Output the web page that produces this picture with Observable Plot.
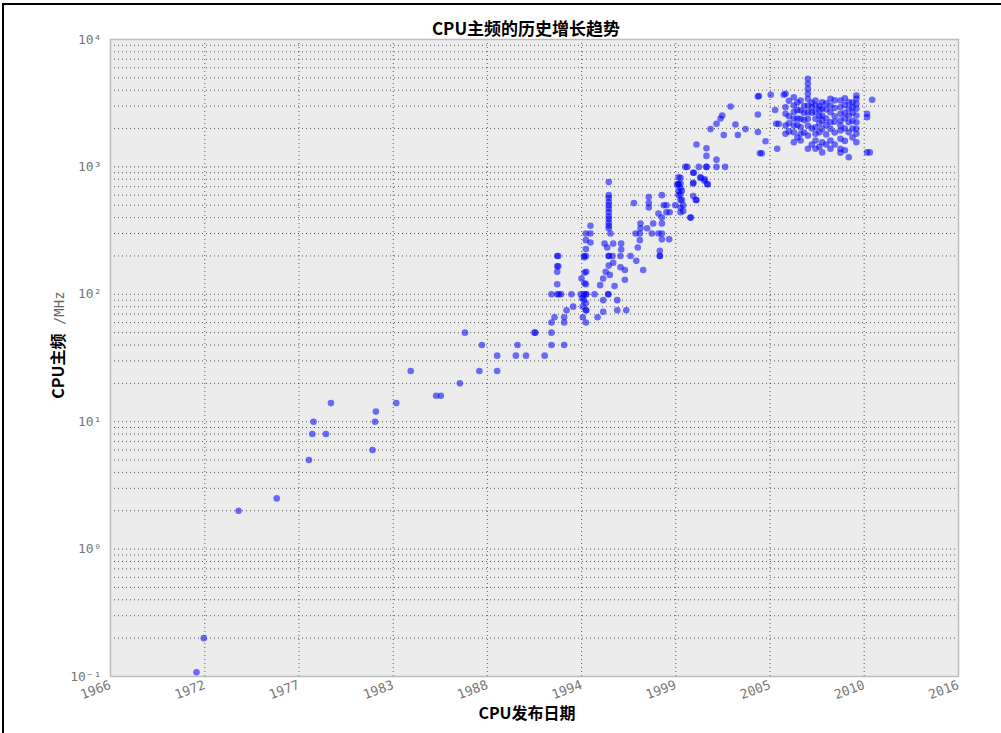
<!DOCTYPE html>
<html><head><meta charset="utf-8">
<script src="https://cdn.jsdelivr.net/npm/d3@7"></script>
<script src="https://cdn.jsdelivr.net/npm/@observablehq/plot@0.6"></script>
<style>
body{margin:0;background:#fff;}
#wrap{position:relative;width:1001px;height:733px;overflow:hidden;background:#fff;}
#border{position:absolute;left:2px;top:3px;width:1200px;height:900px;border-top:2px solid #000;border-left:2px solid #000;}
#chart{position:absolute;left:0;top:0;}
.t{position:absolute;font-family:"Noto Sans CJK SC",sans-serif;font-weight:bold;color:#000;white-space:nowrap;transform:translate(-50%,-50%);}
#title{left:526px;top:27px;font-size:17px;}
#xlabel{left:527px;top:712px;font-size:16px;}
#ylabel{left:57px;top:345px;font-size:16px;transform:translate(-50%,-50%) rotate(-90deg);}
#ylabel span{font-weight:normal;color:#666;font-family:"DejaVu Sans Mono",monospace;font-size:14px;}
</style></head>
<body><div id="wrap"><div id="border"></div><div id="chart"></div>
<div class="t" id="title">CPU主频的历史增长趋势</div>
<div class="t" id="xlabel">CPU发布日期</div>
<div class="t" id="ylabel">CPU主频<span> /MHz</span></div>
</div>
<script>
// x tick positions (evenly spaced) and their year labels
const xTickValues = [1966, 1971.56, 1977.11, 1982.67, 1988.22, 1993.78, 1999.33, 2004.89, 2010.44, 2016];
const xTickLabels = ["1966","1972","1977","1983","1988","1994","1999","2005","2010","2016"];
const yTickValues = [0.1, 1, 10, 100, 1000, 10000];
const yTickLabels = ["10⁻¹","10⁰","10¹","10²","10³","10⁴"];

// [year, MHz]
const early = [
 [1971.07,0.108],[1971.5,0.2],[1973.55,2],[1975.8,2.5],[1977.7,5],[1977.9,8],[1977.97,10],[1978.7,8],
 [1979.0,14],[1981.45,6],[1981.6,10],[1981.65,12],[1982.85,14],[1983.7,25],[1985.2,16],[1985.48,16],
 [1986.6,20],[1986.9,50],[1987.75,25],[1987.9,40],[1988.8,25],[1988.8,33],[1989.9,33],[1990.0,40],
 [1990.5,33],[1991.0,50],[1991.05,50],[1991.6,33]
];
// [year, [MHz...]]
const nineties = [
 [1992.0,[40,50,60,100]],[1992.18,[66]],[1992.34,[100,120,150,166,200]],[1992.4,[166,200]],
 [1992.43,[100]],[1992.57,[100]],[1992.75,[40,60,66]],[1992.89,[75]],[1993.18,[100]],[1993.28,[80]],
 [1993.73,[100]],[1993.77,[133]],[1993.81,[93]],[1993.85,[66,80]],[1993.91,[90,100,200]],
 [1993.95,[122,148,195]],[1994.03,[60,75,85,100,120,200,227,266,300]],[1994.05,[75,100,150]],
 [1994.3,[255,300,345]],[1994.54,[100]],[1994.72,[66]],[1994.87,[118]],[1995.05,[73,90,133]],
 [1995.13,[250]],[1995.2,[150]],[1995.29,[233]],[1995.35,[100,100]],
 [1995.38,[168,200,200,330,345,365,390,410,440,470,500,530,570,600,760]],
 [1995.44,[142]],[1995.48,[300]],[1995.6,[200]],[1995.64,[177,250]],[1995.72,[116]],[1995.88,[75,90]],
 [1996.07,[163,200]],[1996.11,[225,250]],[1996.33,[130,155]],[1996.41,[75]],[1996.66,[200]],
 [1996.86,[520]],[1996.96,[300]],[1997.0,[183]],[1997.09,[233]],[1997.21,[266,300]],[1997.25,[330,360]],
 [1997.41,[155]],[1997.64,[330]],[1997.74,[480,520,580]],[1997.92,[300]],[1998.0,[360]],
 [1998.31,[300,430]],[1998.39,[200,200,220]],[1998.51,[270,300,360,400,600]],[1998.62,[500]],
 [1998.78,[440,500]],[1998.94,[270]],[1998.97,[440]],[1999.3,[500]],[1999.41,[730]],
 [1999.49,[600,650,730,730,830]],[1999.61,[440,480,550,610,680,740,820]],[1999.69,[550,650]],
 [1999.77,[450,500]]
];
const twoThousands = [
 [1999.9,[1000]],[2000.0,[1000]],[2000.2,[400,400]],[2000.36,[590,740,750,900]],[2000.39,[900]],
 [2000.51,[550]],[2000.55,[550,1500]],[2000.69,[1000]],[2000.79,[820,830]],[2001.02,[780]],
 [2001.04,[800]],[2001.14,[1000,1000,1220,1400]],[2001.18,[730]],[2001.22,[730]],[2001.38,[1980]],
 [2001.73,[1000,1140,2180]],[2001.97,[2400]],[2002.07,[2530]],[2002.16,[1780]],[2002.24,[1000]],
 [2002.56,[2980]],[2002.85,[2150]],[2002.99,[1780]],[2003.44,[1980]],[2004.17,[1880,2580,3570]],
 [2004.23,[3600]],[2004.29,[1280]],[2004.4,[1280]],[2004.62,[1590]],[2004.93,[3685]],
 [2005.19,[2800]],[2005.25,[2180]],[2005.31,[1390]],[2005.4,[2180]],[2005.7,[3685]]
];
const cluster = [
 [2005.8,[3750,2940,2610,2110,1820]],
 [2006.0,[3300,2500,2200,1900]],
 [2006.29,[3520,3030,2690,2385,2110,1870,1560]],
 [2006.5,[3200,2800,2400,2130,1700]],
 [2006.69,[3320,2770,2385,2050,1820,1610]],
 [2006.9,[3000,2660,2330,1860]],
 [2007.12,[4915,4490,4100,3750,3420,3030,2690,2385,2110,1760,1390]],
 [2007.35,[3200,2930,2660,2000,1500]],
 [2007.57,[3320,3030,2690,2385,2050,1820,1610,1390]],
 [2007.8,[3000,2800,2500,2200,1870,1440]],
 [2007.96,[3220,2860,2530,2310,1990,1560,1300]],
 [2008.2,[3160,2830,2400,2130,1800,1500]],
 [2008.45,[3420,3030,2690,2240,1990,1610,1390]],
 [2008.7,[3330,2900,2500,2260,1860,1500]],
 [2009.04,[3320,2940,2610,2310,2110,1930,1660,1390,1290]],
 [2009.3,[3460,3060,2660,2400,2000,1600,1350]],
 [2009.53,[3220,2860,2530,2240,1870,1190]],
 [2009.75,[3200,2930,2660,2300,2000,1700]],
 [2009.98,[3630,3420,3130,2860,2530,2240,1990,1820,1560]],
 [2010.61,[2610,2455,1300]],[2010.77,[1300]],[2010.91,[3370]]
];

const points = early.map(([year, mhz]) => ({year, mhz}));
for (const group of [nineties, twoThousands, cluster])
  for (const [year, vals] of group) for (const mhz of vals) points.push({year, mhz});

const xLab = new Map(xTickValues.map((v, i) => [v, xTickLabels[i]]));
const yLab = new Map(yTickValues.map((v, i) => [v, yTickLabels[i]]));
const yGrid = d3.scaleLog().domain([0.1, 10000]).ticks();

const chart = Plot.plot({
  width: 1001, height: 733,
  marginLeft: 110, marginRight: 43, marginTop: 39, marginBottom: 57,
  style: {background: "transparent", fontFamily: "'DejaVu Sans Mono', monospace", fontSize: "13px", color: "#777"},
  x: {domain: [1966, 2016], label: null},
  y: {type: "log", domain: [0.1, 10000], label: null},
  marks: [
    Plot.frame({fill: "#ececec"}),
    Plot.gridY(yGrid, {stroke: "#333", strokeOpacity: 0.8, strokeWidth: 1, strokeDasharray: "1,3"}),
    Plot.gridX(xTickValues, {stroke: "#333", strokeOpacity: 0.8, strokeWidth: 1, strokeDasharray: "1,3"}),
    Plot.frame({stroke: "#bdbdbd", strokeWidth: 1.5}),
    Plot.dot(points, {x: "year", y: "mhz", r: 3.3, fill: "#0000ff", fillOpacity: 0.55, stroke: "none"}),
    Plot.axisY(yTickValues, {tickFormat: d => yLab.get(d), tickSize: 0, tickPadding: 9, fill: "#777", label: null}),
    Plot.axisX(xTickValues, {tickFormat: d => xLab.get(d), tickSize: 0, tickPadding: 8, tickRotate: -20, fill: "#777", label: null})
  ]
});
document.getElementById("chart").appendChild(chart);
</script>
</body></html>
